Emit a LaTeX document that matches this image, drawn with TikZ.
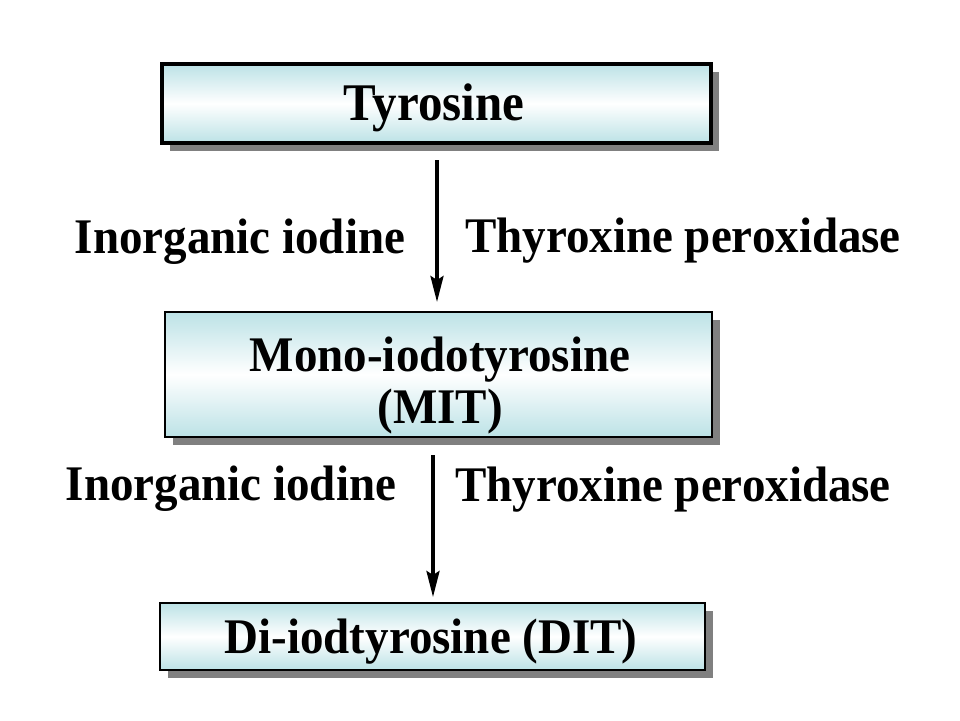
\documentclass[tikz,border=0pt]{standalone}
\usepackage{fontspec}
\usepackage{graphicx}
\setmainfont{Liberation Serif}
\usetikzlibrary{shadows,arrows.meta}
\definecolor{boxcyan}{RGB}{188,226,230}
\definecolor{shadowgray}{RGB}{128,128,128}
\newcommand{\tallt}[1]{\scalebox{1}[1.06]{#1}}
\tikzset{
  stagebox/.style={draw=black, rectangle, inner sep=0pt,
    top color=boxcyan, bottom color=boxcyan, middle color=white,
    drop shadow={shadow xshift=8pt, shadow yshift=-8pt, fill=shadowgray, opacity=1}},
  lbl/.style={inner sep=0pt, anchor=base, font=\fontsize{47}{52}\selectfont\bfseries},
  flow/.style={line width=3.5pt, -{Stealth[length=26pt,width=13pt,inset=4pt]}}
}
\begin{document}
\begin{tikzpicture}[x=1pt,y=-1pt]
\useasboundingbox (0,0) rectangle (960,720);
% boxes
\node[stagebox, line width=4pt, minimum width=549pt, minimum height=79pt] (tyr) at (436.5,103.5) {};
\node[stagebox, line width=1.2pt, minimum width=547pt, minimum height=125pt] (mit) at (438.5,374.5) {};
\node[stagebox, line width=1.2pt, minimum width=545pt, minimum height=67pt] (dit) at (432.5,636.5) {};
% box texts
\node[lbl, font=\fontsize{49}{54}\selectfont\bfseries] (tyrt) at (434,120) {\scalebox{1}[1.08]{Tyrosine}};
\node[lbl] (mitt1) at (440,371) {\tallt{Mono-iodotyrosine}};
\node[lbl] (mitt2) at (440,423) {\tallt{(MIT)}};
\node[lbl] (ditt) at (431,653) {\tallt{Di-iodtyrosine (DIT)}};
% arrows
\coordinate (a1s) at (437,160);
\coordinate (a1e) at (437,302);
\coordinate (a2s) at (433,455);
\coordinate (a2e) at (433,597);
\draw[flow] (a1s) -- (a1e);
\draw[flow] (a2s) -- (a2e);
% labels
\node[lbl] (io1) at (240,253) {\tallt{Inorganic iodine}};
\node[lbl] (tp1) at (683,252.5) {\tallt{Thyroxine peroxidase}};
\node[lbl] (io2) at (231,500) {\tallt{Inorganic iodine}};
\node[lbl] (tp2) at (673,501) {\tallt{Thyroxine peroxidase}};
\end{tikzpicture}
\end{document}
